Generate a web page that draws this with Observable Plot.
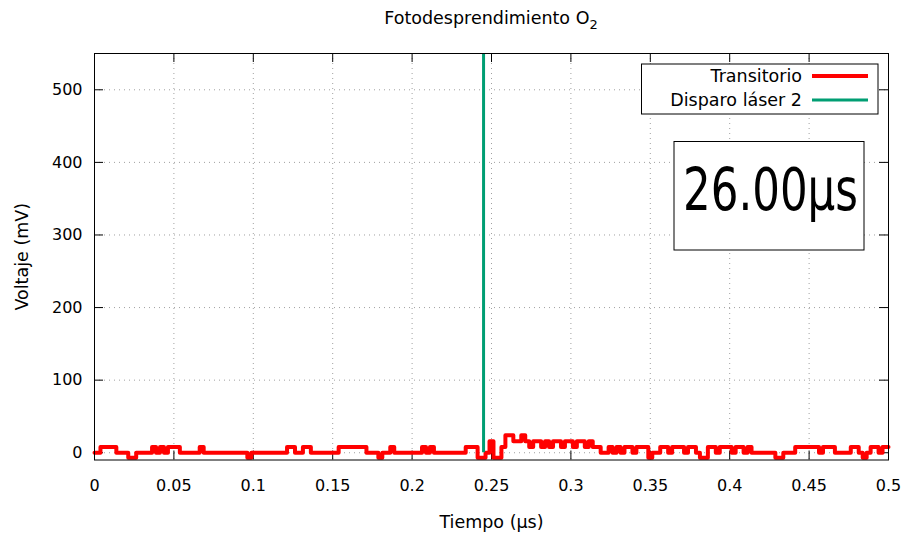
<!DOCTYPE html>
<html><head><meta charset="utf-8">
<script src="https://cdn.jsdelivr.net/npm/d3@7"></script>
<script src="https://cdn.jsdelivr.net/npm/@observablehq/plot@0.6"></script>
<style>body{margin:0;background:#fff} svg{display:block}</style>
</head><body><div id="chart"></div>
<script>
// ---- data ----
const sampleStart = 0;        // µs
const sampleStep = 0.0025;    // µs between samples
const transitorio = [
  0,0,8,8,8,8,0,0,0,-7,-7,0,0,0,0,8,0,8,0,8,
  8,8,0,0,0,0,0,8,0,0,0,0,0,0,0,0,0,0,0,-7,
  0,0,0,0,0,0,0,0,0,8,8,0,0,8,8,0,0,0,0,0,
  0,0,8,8,8,8,8,8,8,0,0,0,-7,0,0,8,0,0,0,0,
  0,0,0,8,0,8,0,0,0,0,0,0,0,0,8,8,8,-7,-7,0,
  16,-7,-7,8,24,24,16,16,24,16,8,16,16,8,16,8,16,16,8,16,
  16,8,16,16,8,16,8,8,0,0,8,0,8,0,8,8,0,8,8,8,
  -7,0,0,8,8,0,8,8,8,0,8,8,0,-7,-7,8,8,0,8,8,
  8,0,8,8,0,8,0,0,0,0,0,0,-7,-7,0,0,0,8,8,8,
  8,8,8,0,8,8,8,0,0,0,0,8,8,0,-7,0,8,8,0,8,8
];
const laserShot = [0.245];
const laserSpan = [0, 550];
const xTicks = [0, 0.05, 0.1, 0.15, 0.2, 0.25, 0.3, 0.35, 0.4, 0.45, 0.5];
const xTickLabels = ["0","0.05","0.1","0.15","0.2","0.25","0.3","0.35","0.4","0.45","0.5"];
const yTicks = [0, 100, 200, 300, 400, 500];
const yTickLabels = ["0","100","200","300","400","500"];
const xDomain = [0, 0.5];
const yDomain = [-10, 550];
const titleText = "Fotodesprendimiento O";
const titleSub = "2";
const xLabel = "Tiempo (µs)";
const yLabel = "Voltaje (mV)";
const seriesNames = ["Transitorio", "Disparo láser 2"];
const seriesColors = ["#ff0000", "#009e73"];
const timeStamp = "26.00µs";

// ---- build ----
const series = transitorio.map((v, i) => ({t: sampleStart + i * sampleStep, v}));

const W = 906, H = 537, mL = 94, mR = 18, mT = 53, mB = 77.5;
const innerW = W - mL - mR, innerH = H - mT - mB;
const font = "'DejaVu Sans', Verdana, sans-serif";
const gridStyle = {stroke: "#a0a0a0", strokeOpacity: 1, strokeDasharray: "1,4", strokeWidth: 1};
const tickLen = 9;

const chart = Plot.plot({
  width: W, height: H,
  marginLeft: mL, marginRight: mR, marginTop: mT, marginBottom: mB,
  style: {fontFamily: font, fontSize: "16px", color: "#000", background: "#fff", overflow: "visible"},
  x: {domain: xDomain},
  y: {domain: yDomain},
  marks: [
    Plot.gridX(xTicks, gridStyle),
    Plot.gridY(yTicks, gridStyle),
    Plot.ruleX(xTicks, {x: d => d, insetTop: innerH - tickLen, stroke: "#000"}),
    Plot.ruleX(xTicks, {x: d => d, insetBottom: innerH - tickLen, stroke: "#000"}),
    Plot.ruleY(yTicks, {y: d => d, insetRight: innerW - tickLen, stroke: "#000"}),
    Plot.ruleY(yTicks, {y: d => d, insetLeft: innerW - tickLen, stroke: "#000"}),
    Plot.axisX(xTicks, {tickSize: 0, tickPadding: 20, label: null, fill: "#000",
      tickFormat: d => xTickLabels[xTicks.indexOf(d)]}),
    Plot.axisY(yTicks, {tickSize: 0, tickPadding: 12, label: null, fill: "#000",
      tickFormat: d => yTickLabels[yTicks.indexOf(d)]}),
    Plot.line(series, {x: "t", y: "v", stroke: seriesColors[0], strokeWidth: 4, curve: "step"}),
    Plot.ruleX(laserShot, {x: d => d, y1: laserSpan[0], y2: laserSpan[1], stroke: seriesColors[1], strokeWidth: 3}),
    Plot.frame({stroke: "#000", strokeWidth: 1}),
    Plot.text([yLabel], {frameAnchor: "left", dx: -72, rotate: -90, textAnchor: "middle", lineAnchor: "middle", fill: "#000", fontSize: 17.5}),
    Plot.text([xLabel], {frameAnchor: "bottom", dy: 62, textAnchor: "middle", lineAnchor: "middle", fill: "#000", fontSize: 17.5})
  ]
});

const svg = d3.select(chart);
// title
const tt = svg.append("text").attr("x", mL + innerW / 2).attr("y", 24)
  .attr("text-anchor", "middle").attr("fill", "#000").style("font-size", "17.5px");
tt.append("tspan").text(titleText);
tt.append("tspan").attr("dy", 5).style("font-size", "13px").text(titleSub);

// legend
const lgRight = mL + innerW - 10, lgTop = mT + 11, lgW = 236.5, lgH = 50;
const lg = svg.append("g");
lg.append("rect").attr("x", lgRight - lgW).attr("y", lgTop).attr("width", lgW).attr("height", lgH)
  .attr("fill", "#fff").attr("stroke", "#000");
seriesNames.forEach((name, i) => {
  const cy = lgTop + 12 + i * 24;
  lg.append("text").attr("x", lgRight - 76).attr("y", cy).attr("dy", "0.35em")
    .attr("text-anchor", "end").attr("fill", "#000").style("font-size", "17.5px").text(name);
  lg.append("line").attr("x1", lgRight - 66).attr("x2", lgRight - 10).attr("y1", cy).attr("y2", cy)
    .attr("stroke", seriesColors[i]).attr("stroke-width", i ? 3 : 4);
});

// time stamp box
const bxRight = mL + innerW - 24, bxTop = mT + 88.5, bxW = 190, bxH = 108.5;
svg.append("rect").attr("x", bxRight - bxW).attr("y", bxTop).attr("width", bxW).attr("height", bxH)
  .attr("fill", "#fff").attr("stroke", "#000");
svg.append("text").attr("x", bxRight - bxW / 2 + 1.5).attr("y", bxTop + 68)
  .attr("text-anchor", "middle").attr("fill", "#000")
  .style("font-family", "'Liberation Sans Narrow', 'DejaVu Sans', sans-serif").style("font-size", "58px")
  .attr("textLength", 175).attr("lengthAdjust", "spacingAndGlyphs").text(timeStamp);

document.getElementById("chart").appendChild(chart);
</script>
</body></html>
